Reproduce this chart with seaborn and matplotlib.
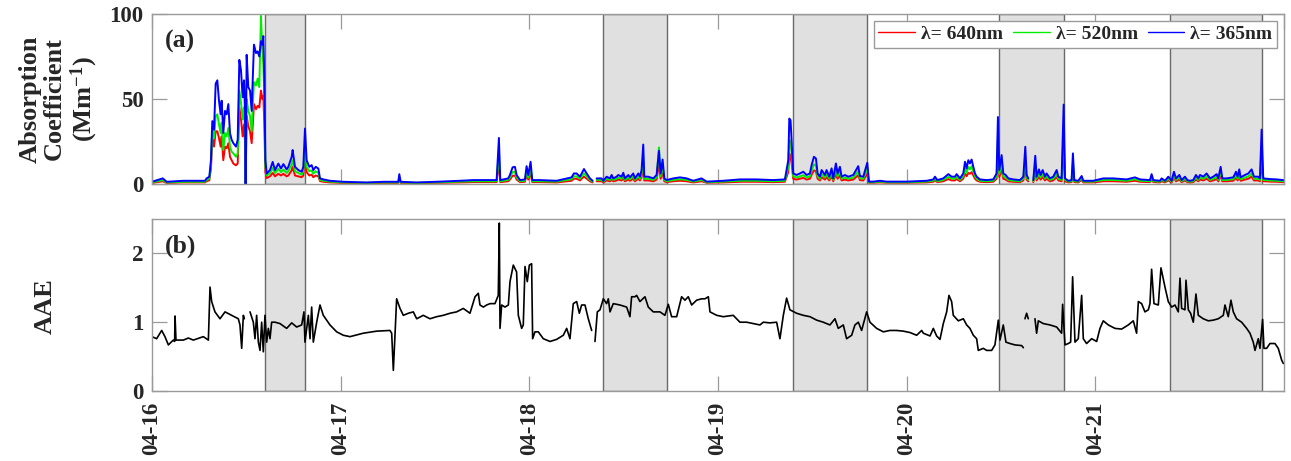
import numpy as np
import pandas as pd
import matplotlib
matplotlib.use("Agg")
import matplotlib.pyplot as plt
import matplotlib.dates as mdates
from matplotlib.lines import Line2D
import seaborn as sns

# ---------------- data ----------------
START = pd.Timestamp("2019-04-16 00:00")

# absorption coefficient (Mm^-1), time in hours since 04-16 00:00; NaN = no data
abs_hours = [
    0.00, 1.36, 1.87, 3.99, 6.74, 6.95, 7.29, 7.50, 7.67, 7.89, 8.10, 8.31, 8.52, 8.73, 8.86,
    9.07, 9.29, 9.50, 9.71, 9.92, 10.13, 10.35, 10.68, 10.90, 11.11, 11.32, 11.53, 11.70, 11.83,
    11.91, 12.04, 12.25, 12.47, 12.68, 12.81, 12.97, 13.23, 13.44, 13.65, 13.86, 14.03, 14.16,
    14.29, 14.42, 14.59, 15.01, 15.35, 15.65, 16.07, 16.41, 16.71, 17.13, 17.34, 17.77, 17.89,
    18.19, 18.61, 19.04, 19.25, 19.46, 19.67, 20.01, 20.31, 20.52, 20.82, 21.16, 21.37, 21.79,
    22.64, 24.34, 27.31, 29.43, 31.33, 31.46, 31.63, 33.67, 36.63, 39.17, 40.87, 43.84, 44.13,
    44.30, 45.32, 45.53, 45.87, 46.17, 46.38, 46.81, 47.44, 47.65, 47.87, 48.16, 48.37, 49.35,
    51.47, 53.38, 53.67, 54.01, 54.44, 54.95, 55.29, 55.71, 56.05, 56.30, 56.56, 57.19, 57.41,
    57.83, 58.25, 58.47, 58.68, 59.10, 59.31, 59.74, 59.95, 60.16, 60.59, 60.80, 61.22, 61.43,
    61.86, 62.07, 62.28, 62.49, 62.62, 63.13, 63.77, 64.19, 64.49, 64.70, 64.95, 65.17, 65.46,
    66.31, 67.16, 68.01, 68.85, 69.91, 70.55, 72.67, 74.79, 76.91, 79.03, 80.51, 80.94, 81.07,
    81.23, 81.36, 81.57, 82.00, 82.42, 82.85, 83.27, 83.69, 83.91, 84.20, 84.46, 84.67, 84.97,
    85.18, 85.60, 85.81, 86.15, 86.45, 86.66, 87.00, 87.21, 87.51, 87.72, 88.15, 88.57, 89.21,
    89.84, 90.05, 90.48, 90.99, 91.20, 91.76, 92.60, 93.45, 96.00, 98.54, 99.39, 99.60, 99.90,
    100.66, 101.30, 101.72, 102.14, 102.36, 102.78, 103.20, 103.42, 103.63, 103.84, 104.05,
    104.26, 104.48, 104.69, 104.90, 105.32, 106.17, 107.02, 107.44, 107.61, 107.78, 108.08,
    108.29, 108.59, 108.93, 109.56, 110.41, 110.84, 111.09, 111.26, 111.47, 111.80, 112.11,
    112.36, 112.53, 112.83, 113.04, 113.30, 113.59, 113.80, 114.23, 114.65, 115.08, 115.29,
    115.71, 115.97, 116.14, 116.56, 116.98, 117.15, 117.32, 117.83, 118.26, 118.47, 119.74,
    121.01, 122.28, 123.98, 125.04, 125.68, 126.95, 127.16, 127.37, 128.22, 128.43, 128.86,
    129.28, 129.70, 130.00, 130.26, 130.68, 130.98, 131.40, 131.70, 132.04, 132.46, 132.80,
    133.10, 133.31, 133.73, 134.16, 134.58, 135.00, 135.43, 135.64, 135.94, 136.15, 136.70,
    137.55, 137.89, 138.10, 138.31, 138.48, 139.03, 139.46, 139.88, 140.18, 140.73, 140.94,
    141.15, 141.36, 142.21, 143.06, 143.91,
]
nan = np.nan
abs_365 = [
    1.3, 3.3, 1.3, 1.9, 1.9, 3.3, 4.3, 14, 37, 32, 59, 61, 49, 41, 49,
    30, 43, 41, 47, 30, 26, 24, 22, 26, 73, 67, 51, 61, 43,
    0, 76, 57, 55, 43, 61, 82, 77, 78, 75, 84, 82, 87,
    63, 14, 6.2, 8.2, 13, 8.2, 12, 9.1, 11.7, 8.6, 10.1, 16, 20,
    10.1, 8.2, 7.2, 10.1, 32.6, 14, 10.1, 11.1, 8.2, 10.1, 9.1, 3.3, 2.7,
    1.9, 1.3, 0.9, 1.3, 1.3, 5.8, 1.3, 0.9, 1.4, 1.9, 2.3, 2.3, 27.1,
    2.3, 3.3, 5.3, 9.8, 10.1, 5.3, 2.3, 2.7, 10.5, 5.3, 13.1, 2.3, 2.3,
    1.9, 3.9, 6.2, 6.2, 4.3, 8.8, 6.2, 3.3, 1.9, nan, 3.3, 3.3, 1.9,
    4.3, 3.3, 5.3, 3.3, 4.3, 5.3, 4.3, 6.6, 3.3, 5.3, 3.9, 6.2, 3.3,
    6.2, 4.3, 8.2, 23.2, 4.3, 4.3, 3.3, 5.3, 19.5, 6.2, 14.4, 3.3, 2.3,
    3.3, 3.9, 3.3, 1.9, 3.3, 1.4, 1.9, 2.7, 2.7, 2.3, 2.7, 14.0, 38.5,
    37.5, 25.8, 6.2, 5.3, 6.2, 7.2, 5.3, 6.2, 11.1, 16.0, 15.0, 6.2, 4.3,
    8.2, 5.3, 8.2, 4.3, 9.2, 3.3, 12.1, 6.2, 10.1, 4.3, 5.3, 4.3, 5.3,
    10.5, 4.7, 4.3, 12.5, 1.4, 1.4, 1.9, 1.4, 1.4, 1.9, 2.7, 4.3, 2.3,
    3.3, 5.8, 4.3, 4.3, 5.8, 3.3, 6.2, 13.1, 9.2, 14.0, 12.1,
    14.4, 10.1, 6.2, 4.3, 2.7, 2.3, 2.7, 6.2, 39.4, 8.2, 17.0,
    6.2, 5.3, 3.3, 2.7, 2.3, 4.3, 21.9, 5.3, 3.3, nan, 2.3,
    16.6, 4.3, 8.6, 5.3, 8.2, 4.3, 6.2, 3.3, 4.3, 8.2, 4.3,
    3.3, 46.7, 3.3, 1.9, 2.3, 18.0, 2.3, 1.9, 4.7, 1.9, 1.9,
    3.3, 3.3, 2.7, 3.9, 2.7, 2.3, 5.8, 2.3, 1.9, 3.3, 1.9,
    4.3, 1.9, 7.2, 3.3, 5.3, 2.3, 4.3, 2.3, 1.9, 2.3, 5.3,
    3.3, 5.3, 4.3, 6.2, 3.3, 4.3, 5.8, 3.3, 10.1, 3.3, 3.3,
    3.9, 7.2, 4.3, 8.6, 3.9, 5.3, 6.2, 8.6, 4.3, 4.3, 3.3,
    32.0, 3.3, 2.9, 2.7, 2.3,
]
abs_520 = [
    0.9, 2.3, 0.9, 1.3, 1.3, 2.3, 3.2, 11, 33, 27, 40, 41, 35, 30, 36,
    20, 30, 28, 33, 22, 19, 18, 16, 18, 55, 48, 38, 45, 32,
    0, 50, 43, 40, 31, 45, 60, 58, 62, 57, 99, 80, 70,
    50, 10, 5.0, 6.5, 9.5, 6.5, 9, 7, 8.5, 6.5, 7.5, 11.5, 14,
    7.5, 6.5, 5.5, 7.5, 22, 10, 7.5, 8, 6, 7.5, 6.5, 2.4, 1.9,
    1.4, 0.9, 0.7, 0.9, 0.9, 4.0, 0.9, 0.7, 1.0, 1.4, 1.6, 1.6, 19,
    1.6, 2.4, 3.8, 7, 7.2, 3.8, 1.6, 1.9, 7.5, 3.8, 9.4, 1.6, 1.6,
    1.4, 2.8, 4.5, 4.5, 3.1, 6.3, 4.5, 2.4, 1.4, nan, 2.4, 2.4, 1.4,
    3.1, 2.4, 3.8, 2.4, 3.1, 3.8, 3.1, 4.8, 2.4, 3.8, 2.8, 4.5, 2.4,
    4.5, 3.1, 5.9, 16, 3.1, 3.1, 2.4, 3.8, 21.5, 4.5, 10.5, 2.4, 1.6,
    2.4, 2.8, 2.4, 1.4, 2.4, 1.0, 1.4, 1.9, 1.9, 1.6, 1.9, 10, 26,
    24, 18, 4.5, 3.8, 4.5, 5.2, 3.8, 4.5, 8, 11.5, 11, 4.5, 3.1,
    5.9, 3.8, 5.9, 3.1, 6.6, 2.4, 8.7, 4.5, 7.3, 3.1, 3.8, 3.1, 3.8,
    7.6, 3.4, 3.1, 9, 1.0, 1.0, 1.4, 1.0, 1.0, 1.4, 1.9, 3.1, 1.6,
    2.4, 4.2, 3.1, 3.1, 4.2, 2.4, 4.5, 9, 6.6, 10, 8.7,
    10.5, 7.3, 4.5, 3.1, 1.9, 1.6, 1.9, 4.5, 28, 5.9, 12,
    4.5, 3.8, 2.4, 1.9, 1.6, 3.1, 15, 3.8, 2.4, nan, 1.6,
    12, 3.1, 6.2, 3.8, 5.9, 3.1, 4.5, 2.4, 3.1, 5.9, 3.1,
    2.4, 32, 2.4, 1.4, 1.6, 13, 1.6, 1.4, 3.4, 1.4, 1.4,
    2.4, 2.4, 1.9, 2.8, 1.9, 1.6, 4.2, 1.6, 1.4, 2.4, 1.4,
    3.1, 1.4, 5.2, 2.4, 3.8, 1.6, 3.1, 1.6, 1.4, 1.6, 3.8,
    2.4, 3.8, 3.1, 4.5, 2.4, 3.1, 4.2, 2.4, 7.3, 2.4, 2.4,
    2.8, 5.2, 3.1, 6.2, 2.8, 3.8, 4.5, 6.2, 3.1, 3.1, 2.4,
    22, 2.4, 2.1, 1.9, 1.6,
]
abs_640 = [
    0.6, 1.6, 0.6, 0.9, 0.9, 1.6, 2.2, 9, 27, 22, 31, 31, 27, 22, 28,
    14, 22, 21, 24, 16, 14, 12, 11, 12, 45, 38, 28, 35, 25,
    0, 40, 34, 31, 24, 34, 47, 44, 46, 45, 55, 50, 52,
    35, 7, 3.5, 4.5, 6.5, 4.5, 6, 5, 6, 4.5, 5, 8, 10,
    5, 4.5, 4, 5, 15, 7, 5, 5.5, 4, 5, 4.5, 1.7, 1.3,
    0.9, 0.6, 0.5, 0.6, 0.6, 2.8, 0.6, 0.5, 0.7, 0.9, 1.1, 1.1, 13,
    1.1, 1.6, 2.6, 4.8, 5, 2.6, 1.1, 1.3, 5.2, 2.6, 6.5, 1.1, 1.1,
    0.9, 1.9, 3.1, 3.1, 2.1, 4.4, 3.1, 1.6, 0.9, nan, 1.6, 1.6, 0.9,
    2.1, 1.6, 2.6, 1.6, 2.1, 2.6, 2.1, 3.3, 1.6, 2.6, 1.9, 3.1, 1.6,
    3.1, 2.1, 4.1, 11, 2.1, 2.1, 1.6, 2.6, 12, 3.1, 7, 1.6, 1.1,
    1.6, 1.9, 1.6, 0.9, 1.6, 0.7, 0.9, 1.3, 1.3, 1.1, 1.3, 7, 18,
    16, 12, 3.1, 2.6, 3.1, 3.6, 2.6, 3.1, 5.5, 8, 7.5, 3.1, 2.1,
    4.1, 2.6, 4.1, 2.1, 4.6, 1.6, 6, 3.1, 5, 2.1, 2.6, 2.1, 2.6,
    5.2, 2.3, 2.1, 6.2, 0.7, 0.7, 0.9, 0.7, 0.7, 0.9, 1.3, 2.1, 1.1,
    1.6, 2.9, 2.1, 2.1, 2.9, 1.6, 3.1, 6, 4.6, 6.5, 6,
    7, 5, 3.1, 2.1, 1.3, 1.1, 1.3, 3.1, 19, 4.1, 8.5,
    3.1, 2.6, 1.6, 1.3, 1.1, 2.1, 10, 2.6, 1.6, nan, 1.1,
    8, 2.1, 4.3, 2.6, 4.1, 2.1, 3.1, 1.6, 2.1, 4.1, 2.1,
    1.6, 22, 1.6, 0.9, 1.1, 9, 1.1, 0.9, 2.3, 0.9, 0.9,
    1.6, 1.6, 1.3, 1.9, 1.3, 1.1, 2.9, 1.1, 0.9, 1.6, 0.9,
    2.1, 0.9, 3.6, 1.6, 2.6, 1.1, 2.1, 1.1, 0.9, 1.1, 2.6,
    1.6, 2.6, 2.1, 3.1, 1.6, 2.1, 2.9, 1.6, 5, 1.6, 1.6,
    1.9, 3.6, 2.1, 4.3, 1.9, 2.6, 3.1, 4.3, 2.1, 2.1, 1.6,
    15, 1.6, 1.4, 1.3, 1.1,
]

# absorption Angstrom exponent, time in hours since 04-16 00:00; NaN = no data
aae_hours = [
    0.00, 0.59, 1.23, 1.65, 2.08, 2.71, 2.88, 2.93, 3.05, 3.99, 4.62, 5.26, 6.53, 7.17, 7.38,
    7.59, 8.01, 8.65, 9.29, 10.13, 10.98, 11.19, 11.41, 11.62, 11.75, 12.10, 12.47, 12.89,
    13.10, 13.31, 13.53, 13.74, 13.95, 14.16, 14.37, 14.59, 14.80, 15.01, 15.22, 15.65, 16.28,
    17.13, 17.77, 18.40, 19.04, 19.33, 19.46, 19.89, 20.10, 20.31, 20.52, 20.95, 21.37, 21.79,
    22.64, 23.49, 24.34, 25.19, 26.88, 28.58, 30.27, 30.49, 30.70, 30.91, 31.12, 31.55, 31.97,
    32.61, 33.24, 33.67, 34.51, 35.36, 36.21, 37.06, 37.91, 38.75, 39.60, 40.45, 41.09, 41.51,
    41.72, 42.15, 42.57, 43.01, 43.63, 44.05, 44.18, 44.27, 44.48, 44.90, 45.33, 45.54, 45.96,
    46.38, 46.60, 47.02, 47.23, 47.45, 47.74, 48.00, 48.29, 48.42, 48.72, 49.14, 49.78, 50.63,
    51.47, 52.32, 52.75, 53.17, 53.59, 54.02, 54.36, 54.65, 55.08, 55.50, 55.93, 56.10, 56.35,
    56.65, 56.99, 57.41, 57.83, 58.05, 58.26, 58.68, 59.53, 60.38, 60.80, 61.01, 61.44, 61.65,
    62.07, 62.71, 63.13, 63.77, 64.62, 65.25, 65.68, 66.10, 66.74, 67.37, 67.80, 68.22, 68.65,
    69.28, 69.92, 70.34, 70.77, 70.98, 71.83, 72.67, 73.94, 74.79, 75.64, 76.49, 77.34, 77.76,
    78.61, 79.46, 79.88, 80.31, 80.73, 81.15, 82.00, 82.85, 83.70, 84.55, 85.39, 86.24, 86.88,
    87.30, 87.94, 88.36, 89.00, 89.42, 89.85, 90.27, 90.91, 91.33, 92.18, 93.03, 93.87, 94.72,
    95.57, 96.42, 97.27, 97.91, 98.12, 98.97, 99.39, 99.81, 100.24, 100.66, 101.09, 101.38,
    101.72, 101.93, 102.57, 103.21, 103.63, 104.05, 104.48, 104.90, 105.11, 105.75, 106.17,
    106.81, 107.23, 107.66, 107.87, 108.29, 108.63, 109.14, 109.78, 110.63, 110.84, 110.95,
    111.05, 111.26, 111.47, 111.90, 112.32, 112.53, 112.75, 113.38, 114.23, 115.08, 115.71,
    115.84, 116.14, 116.56, 116.86, 117.11, 117.41, 117.83, 118.26, 118.47, 118.89, 119.53,
    120.17, 120.59, 121.01, 121.65, 122.50, 123.35, 124.19, 124.83, 125.25, 125.47, 125.89,
    126.31, 126.74, 126.95, 127.16, 127.46, 128.01, 128.35, 128.86, 129.28, 129.71, 130.13,
    130.55, 130.77, 130.98, 131.40, 131.53, 131.83, 132.12, 132.46, 132.80, 133.10, 133.73,
    134.37, 135.01, 135.64, 136.28, 136.49, 136.91, 137.25, 137.55, 137.97, 138.61, 139.25,
    139.67, 140.09, 140.31, 140.73, 140.94, 141.28, 141.45, 141.79, 142.21, 142.85, 143.27,
    143.70, 143.91,
]
aae_values = [
    0.79, 0.76, 0.88, 0.79, 0.67, 0.74, 0.72, 1.09, 0.74, 0.74, 0.77, 0.74, 0.79, 0.74, 1.51,
    1.30, 1.15, 1.05, 1.15, 1.10, 1.05, 0.96, 0.62, 1.10, 1.05, nan, 1.15, 1.00,
    0.76, 1.10, 0.71, 0.59, 1.00, 0.57, 1.10, 0.71, 0.91, 0.76, 1.00, 1.00, 0.98,
    0.91, 0.99, 0.93, 0.96, 1.15, 0.71, 1.10, 0.76, 1.22, 0.71, 1.00, 1.25, 1.10,
    0.96, 0.86, 0.81, 0.79, 0.84, 0.87, 0.88, 0.84, 0.30, 0.81, 1.34, 1.20, 1.10,
    1.13, 1.15, 1.05, 1.10, 1.05, 1.08, 1.10, 1.13, 1.15, 1.20, 1.13, 1.37, 1.42,
    1.25, 1.22, 1.25, 1.27, 1.27, 1.39, 2.44, 0.91, 1.25, 1.22, 1.25, 1.59, 1.83,
    1.73, 1.10, 0.91, 0.96, 1.81, 1.59, 1.83, 1.85, 0.76, 0.86, 0.86, 0.76, 0.72,
    0.75, 0.81, 0.91, 0.76, 1.27, 1.30, 1.13, 1.25, 1.25, 1.05, 0.88, nan, 0.72,
    1.15, 1.18, 1.34, 1.27, 1.34, 1.15, 1.27, 1.25, 1.22, 1.08, 1.37, 1.37, 1.39,
    1.30, 1.37, 1.22, 1.15, 1.15, 1.10, 1.26, 1.08, 1.08, 1.37, 1.32, 1.37, 1.25,
    1.32, 1.34, 1.34, 1.37, 1.15, 1.10, 1.08, 1.10, 1.00, 1.00, 0.98, 0.96, 1.00,
    0.99, 1.00, 0.76, 1.10, 1.35, 1.18, 1.13, 1.10, 1.08, 1.03, 1.00, 0.96, 1.05,
    0.91, 0.96, 0.76, 0.81, 0.96, 1.00, 0.88, 1.15, 1.00, 0.91, 0.86, 0.88, 0.88,
    0.87, 0.85, 0.81, 0.88, 0.84, 0.80, 0.91, 0.80, 0.75, 0.98, 1.15, 1.39,
    1.30, 1.10, 1.02, 1.05, 0.96, 0.91, 0.81, 0.76, 0.59, 0.62, 0.59,
    0.59, 0.67, 1.03, 0.74, 0.96, 0.71, 0.69, 0.67, 0.66, 0.63, nan,
    1.05, 1.13, 1.05, nan, 1.05, 0.84, 1.02, 0.98, 0.96, 0.93, 0.84,
    1.26, 0.67, 0.69, 0.71, 1.66, 0.71, 0.76, 1.39, 0.76, 0.69, 0.76,
    0.72, 0.91, 1.02, 0.96, 0.91, 0.90, 0.96, 1.02, 0.84, 1.30, 1.27,
    1.15, 1.18, 1.27, 1.77, 1.27, 1.25, 1.79, 1.51, 1.30, 1.22, 1.25,
    1.15, 1.64, 1.20, 1.18, 1.61, 1.18, 1.13, 1.00, 1.41, 1.10, 1.05,
    1.02, 1.03, 1.05, 1.10, 1.25, 1.08, 1.32, 1.15, 1.05, 1.00, 0.91,
    0.84, 0.71, 0.59, 0.76, 0.62, 1.04, 0.62, 0.62, 0.69, 0.69, 0.62,
    0.45, 0.40,
]

# shaded sampling periods (hours since 04-16 00:00)
shade_start = [14.40, 57.42, 81.51, 107.80, 129.50]
shade_end = [19.50, 65.48, 90.90, 116.00, 141.20]

series_labels = ["λ= 640nm", "λ= 520nm", "λ= 365nm"]
series_colors = ["#ff0000", "#00ee00", "#0000ff"]
day_labels = ["04-16", "04-17", "04-18", "04-19", "04-20", "04-21"]


def to_time(hours):
    return START + pd.to_timedelta(np.asarray(hours, dtype=float), unit="h")


def long_frame(hours, values, name):
    v = np.asarray(values, dtype=float)
    seg = np.cumsum(np.isnan(v))
    df = pd.DataFrame({"time": to_time(hours), "value": v, "series": name, "segment": seg})
    return df.dropna()


abs_df = pd.concat([
    long_frame(abs_hours, abs_640, series_labels[0]),
    long_frame(abs_hours, abs_520, series_labels[1]),
    long_frame(abs_hours, abs_365, series_labels[2]),
], ignore_index=True)
aae_df = long_frame(aae_hours, aae_values, "AAE")

# ---------------- style ----------------
sns.set_style("ticks")
plt.rcParams["font.family"] = ["Liberation Serif", "DejaVu Serif"]
plt.rcParams["font.weight"] = "bold"
plt.rcParams["mathtext.fontset"] = "custom"
plt.rcParams["mathtext.rm"] = "Liberation Serif:bold"
plt.rcParams["mathtext.bf"] = "Liberation Serif:bold"
plt.rcParams["mathtext.it"] = "Liberation Serif:bold:italic"

TICK_FS = 16.5
LABEL_FS = 19
LEG_FS = 14
SPINE = "#9a9a9a"

fig = plt.figure(figsize=(12.91, 4.61), dpi=100)
ax1 = fig.add_axes([152 / 1291, (461 - 184) / 461, 1132 / 1291, 170 / 461])
ax2 = fig.add_axes([152 / 1291, (461 - 391) / 461, 1132 / 1291, 172 / 461])

t0, t1 = START, START + pd.Timedelta(days=6)
for ax in (ax1, ax2):
    for s, e in zip(shade_start, shade_end):
        ax.axvspan(to_time([s])[0], to_time([e])[0], facecolor="#e0e0e0",
                   edgecolor="#6a6a6a", linewidth=1.0, zorder=0)

sns.lineplot(data=abs_df, x="time", y="value", hue="series", units="segment",
             estimator=None, hue_order=series_labels, palette=series_colors,
             linewidth=1.4, legend=False, ax=ax1, zorder=3)
sns.lineplot(data=aae_df, x="time", y="value", units="segment", estimator=None,
             color="black", linewidth=1.2, legend=False, ax=ax2, zorder=3)

ax1.set_ylim(0, 100)
ax1.set_yticks([0, 50, 100])
ax2.set_ylim(0, 2.5)
ax2.set_yticks([0, 1, 2])

for ax in (ax1, ax2):
    ax.set_xlim(t0, t1)
    ax.xaxis.set_major_locator(mdates.DayLocator())
    ax.xaxis.set_major_formatter(mdates.DateFormatter("%m-%d"))
    ax.set_xlabel("")
    ax.set_ylabel("")
    ax.tick_params(direction="in", length=11, width=0.9, color=SPINE,
                   top=True, right=True, labelsize=TICK_FS)
    ax.tick_params(axis="y", pad=6)
    ax.tick_params(axis="x", pad=8)
    for sp in ax.spines.values():
        sp.set_color(SPINE)
        sp.set_linewidth(1.0)
        sp.set_zorder(5)
    for lab in ax.get_yticklabels():
        lab.set_fontweight("bold")

ax1.tick_params(labelbottom=False)
ax2.set_xticks(to_time([0, 24, 48, 72, 96, 120]))
ax2.set_xticklabels(day_labels, rotation=90, fontsize=TICK_FS, fontweight="bold")

ax1.text(0.011, 0.84, "(a)", transform=ax1.transAxes, fontsize=18.5,
         fontweight="bold", va="center")
ax2.text(0.011, 0.84, "(b)", transform=ax2.transAxes, fontsize=18.5,
         fontweight="bold", va="center")

fig.text(59 / 1291, 1 - 99 / 461, "Absorption\nCoefficient\n(Mm$^{-1}$)",
         rotation=90, ha="center", va="center", ma="center",
         fontsize=LABEL_FS, fontweight="bold", linespacing=1.1)
fig.text(45 / 1291, 1 - 306 / 461, "AAE", rotation=90, ha="center", va="center",
         fontsize=LABEL_FS, fontweight="bold")

handles = [Line2D([], [], color=c, linewidth=1.0) for c in series_colors]
leg = ax1.legend(handles, series_labels, loc="upper right", ncol=3, frameon=True,
                 fancybox=False, edgecolor=SPINE, framealpha=1.0,
                 prop={"size": LEG_FS, "weight": "bold"}, handlelength=1.9,
                 handletextpad=0.3, columnspacing=0.5, borderpad=0.25,
                 borderaxespad=0.35)
leg.get_frame().set_linewidth(1.0)
leg.set_zorder(6)

fig.savefig("out.png", dpi=100)
